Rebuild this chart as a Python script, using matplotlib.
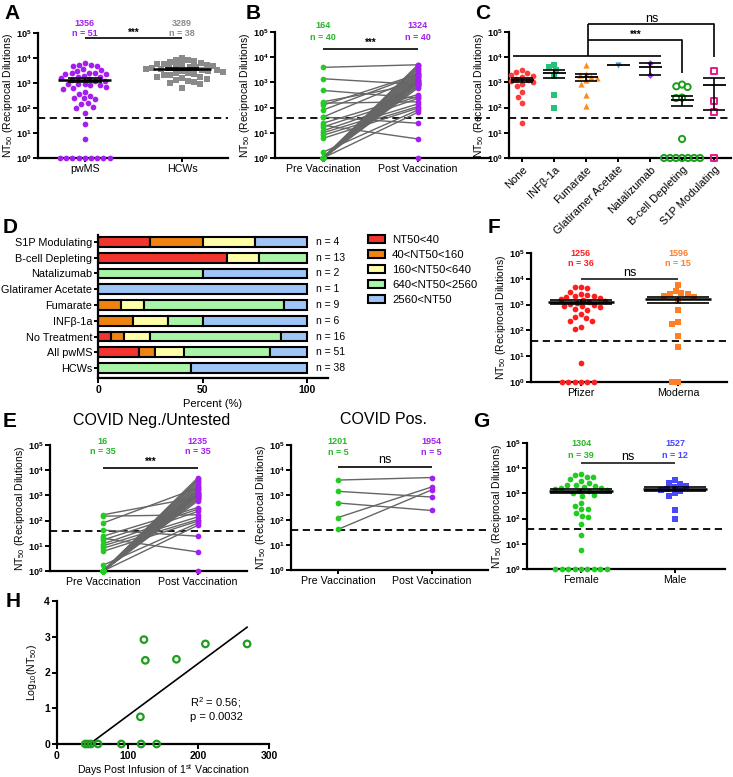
import numpy as np
import matplotlib
matplotlib.use('Agg')
import matplotlib.pyplot as plt
from matplotlib.patches import Patch
from matplotlib.ticker import FixedLocator, FixedFormatter, NullLocator
import matplotlib.transforms as mtrans

plt.rcParams['font.family'] = ['Liberation Sans', 'DejaVu Sans']
plt.rcParams['mathtext.fontset'] = 'custom'
plt.rcParams['mathtext.rm'] = 'Liberation Sans'
plt.rcParams['mathtext.it'] = 'Liberation Sans:italic'
plt.rcParams['mathtext.bf'] = 'Liberation Sans:bold'

# ---------------- data ----------------
# Panel A
cats_A = ['pwMS', 'HCWs']
pwms = [6100, 5400, 5200, 4900, 4600, 3500, 3300, 3100, 2600, 2500, 2450, 2350, 2300,
        1850, 1800, 1700, 1650, 1400, 1300, 1250, 1200, 950, 900, 880, 850, 800, 680,
        650, 600, 420, 380, 300, 260, 240, 230, 160, 140, 110, 100, 62, 23, 5.7,
        1, 1, 1, 1, 1, 1, 1, 1, 1]
hcw = [660, 900, 1000, 1100, 1200, 1300, 1500, 1600, 1700, 1800, 2000, 2100, 2200, 2400,
       2500, 2700, 2900, 3000, 3200, 3380, 3500, 3700, 3900, 4000, 4200, 4500, 4700, 5000,
       5200, 5500, 5800, 6000, 6500, 7000, 7500, 8000, 8500, 10000]
mean_lbl_A = ['1356', '3289']
n_lbl_A = ['n = 51', 'n = 38']

# Panels B / E (paired pre / post vaccination)
cats_BE = ['Pre Vaccination', 'Post Vaccination']
pre_neg = [170, 150, 80, 42, 24, 20, 17, 12, 10, 8, 6, 1.7] + [1] * 23
post_neg = [850, 170, 2000, 24, 330, 5.7, 280, 230, 140, 110, 95, 80,
            5000, 4300, 3800, 3300, 2800, 2400, 2100, 1800, 1600, 1400, 1300, 1200,
            1100, 1000, 950, 900, 750, 700, 65, 1, 1000, 900, 600]
pre_pos = [3960, 1400, 480, 125, 42]
post_pos = [5000, 830, 240, 2100, 1600]
mean_lbl_B = ['164', '1324']
n_lbl_B = ['n = 40', 'n = 40']
mean_lbl_En = ['16', '1235']
n_lbl_En = ['n = 35', 'n = 35']
mean_lbl_Ep = ['1201', '1954']
n_lbl_Ep = ['n = 5', 'n = 5']

# Panel C (by treatment)
cats_C = ['None', 'INFβ-1a', 'Fumarate', 'Glatiramer Acetate', 'Natalizumab',
          'B-cell Depleting', 'S1P Modulating']
c_none = [24, 150, 260, 400, 700, 900, 1000, 1100, 1300, 1400, 1600, 1800, 2000, 2300, 2700, 3000]
c_inf = [100, 330, 1800, 3000, 4000, 5000]
c_fum = [120, 320, 900, 1200, 1500, 1700, 1900, 2200, 5000]
c_ga = [5000]
c_nat = [2000, 6000]
c_bcell = [1, 1, 1, 1, 1, 1, 1, 5.7, 240, 250, 660, 700, 820]
c_s1p = [1, 65, 180, 2800]

# Panel D (percent of each NT50 range)
cats_D = ['HCWs', 'All pwMS', 'No Treatment', 'INFβ-1a', 'Fumarate',
          'Glatiramer Acetate', 'Natalizumab', 'B-cell Depleting', 'S1P Modulating']
bins_D = ['NT50<40', '40<NT50<160', '160<NT50<640', '640<NT50<2560', '2560<NT50']
pct_lt40 = [0, 19.6, 6.25, 0, 0, 0, 0, 61.5, 25]
pct_40_160 = [0, 7.8, 6.25, 16.7, 11.1, 0, 0, 0, 25]
pct_160_640 = [0, 13.7, 12.5, 16.7, 11.1, 0, 0, 15.4, 25]
pct_640_2560 = [44.7, 41.2, 62.5, 16.7, 66.7, 0, 50, 23.1, 0]
pct_gt2560 = [55.3, 17.7, 12.5, 49.9, 11.1, 100, 50, 0, 25]
n_D = [38, 51, 16, 6, 9, 1, 2, 13, 4]

# Panel F (vaccine)
cats_F = ['Pfizer', 'Moderna']
pfizer = [5000, 4800, 4500, 3200, 2600, 2300, 2200, 2100, 2000, 1800, 1600, 1500, 1400,
          1300, 1200, 1100, 950, 900, 850, 800, 700, 620, 420, 320, 300, 240, 230, 140,
          110, 5.5, 1, 1, 1, 1, 1, 1]
moderna = [5940, 3500, 2700, 2600, 2500, 2200, 2000, 1400, 620, 220, 180, 60, 23, 1, 1]
mean_lbl_F = ['1256', '1596']
n_lbl_F = ['n = 36', 'n = 15']

# Panel G (sex)
cats_G = ['Female', 'Male']
female = [6000, 5200, 4600, 4500, 3600, 3000, 2700, 2200, 2100, 2000, 1800, 1700, 1600,
          1500, 1400, 1300, 1200, 1000, 900, 800, 430, 320, 240, 230, 170, 130, 115, 60,
          23, 5.5, 1, 1, 1, 1, 1, 1, 1, 1, 1]
male = [3300, 2600, 2400, 1900, 1800, 1500, 1400, 1300, 1000, 800, 210, 100]
mean_lbl_G = ['1304', '1527']
n_lbl_G = ['n = 39', 'n = 12']

# Panel H (B-cell depleting: days vs log10 NT50)
days_H = [40, 44, 48, 58, 91, 119, 141, 118, 123, 125, 169, 210, 269]
lognt_H = [0, 0, 0, 0, 0, 0, 0, 0.76, 2.92, 2.34, 2.37, 2.80, 2.80]

# ---------------- colours ----------------
PURPLE = '#A31FF0'
GREEN = '#22CC22'
GREEN_T = '#2AB52A'
GRAY = '#8A8A8A'
RED = '#FF1E1E'
ORANGE = '#FF7F27'
BLUE = '#4848FF'
D_COLS = ['#F2352E', '#F0820F', '#FFFFA8', '#A8F5A8', '#9EC5F5']

# ---------------- figure ----------------
W, H = 733, 777
fig = plt.figure(figsize=(W / 100, H / 100), dpi=100)


def add_ax(x0, y0, x1, y1):
    return fig.add_axes([x0 / W, 1 - y1 / H, (x1 - x0) / W, (y1 - y0) / H])


def base_style(ax):
    ax.spines['top'].set_visible(False)
    ax.spines['right'].set_visible(False)
    ax.spines['left'].set_linewidth(1.6)
    ax.spines['bottom'].set_linewidth(1.6)
    ax.tick_params(direction='out', width=1.4, length=3.5, pad=1.5)


def log_axis(ax):
    ax.set_yscale('log')
    ax.set_ylim(1, 1e5)
    ax.yaxis.set_major_locator(FixedLocator([10.0 ** k for k in range(6)]))
    ax.yaxis.set_major_formatter(FixedFormatter([r'$\mathbf{10^{%d}}$' % k for k in range(6)]))
    ax.yaxis.set_minor_locator(NullLocator())
    ax.tick_params(axis='y', labelsize=6.6, pad=1)
    ax.tick_params(axis='x', labelsize=7.7, length=3)
    ax.axhline(40, color='black', lw=1.3, ls=(0, (4, 2.5)), zorder=1)
    ax.set_ylabel(r'NT$_{50}$ (Reciprocal Dilutions)', fontsize=7.5, labelpad=1)


def blend(ax):
    return mtrans.blended_transform_factory(ax.transData, fig.transFigure)


def ptext(ax, x, ypx, s, **kw):
    ax.text(x, 1 - ypx / H, s, transform=blend(ax), ha='center', va='center',
            clip_on=False, **kw)


def pline(ax, xs, ypxs, **kw):
    ax.plot(xs, [1 - y / H for y in ypxs], transform=blend(ax), clip_on=False,
            color='black', lw=1.2, solid_capstyle='butt', **kw)


def swarm(ax, vals, xc, d_px):
    vals = np.asarray(vals, float)
    tr = ax.transData
    ypx = tr.transform(np.column_stack([np.full(len(vals), xc), vals]))[:, 1]
    xunit = tr.transform((1, 1))[0] - tr.transform((0, 1))[0]
    order = np.argsort(-vals, kind='stable')
    placed = []
    offs = np.zeros(len(vals))
    for i in order:
        y = ypx[i]
        cands = [0.0]
        for (px, py) in placed:
            dy = abs(py - y)
            if dy < d_px:
                dx = np.sqrt(d_px ** 2 - dy ** 2)
                cands += [px + dx, px - dx]
        cands = sorted(cands, key=lambda c: (abs(c), c))
        for c in cands:
            if all((c - px) ** 2 + (y - py) ** 2 >= d_px ** 2 - 1e-6 for px, py in placed):
                offs[i] = c
                placed.append((c, y))
                break
    return xc + offs / xunit


def mean_sem(ax, x, vals, hw, cap, lw=1.8):
    v = np.asarray(vals, float)
    m = v.mean()
    ax.plot([x - hw, x + hw], [m, m], color='black', lw=lw, zorder=6,
            solid_capstyle='butt', clip_on=False)
    if len(v) > 1:
        se = v.std(ddof=1) / np.sqrt(len(v))
        ax.errorbar([x], [m], yerr=[[se], [se]], color='black', lw=1.2, capsize=cap,
                    capthick=1.2, zorder=6, fmt='none')


def letter(s, x, y):
    fig.text(x / W, 1 - y / H, s, fontsize=15, fontweight='bold', ha='left', va='top')


NUMFS = 6.5

# ---------------- Panel A ----------------
axA = add_ax(38, 33, 228, 158)
base_style(axA)
log_axis(axA)
axA.set_xlim(-0.48, 1.47)
axA.set_xticks([0, 1])
axA.set_xticklabels(cats_A)
xs = swarm(axA, pwms, 0, 6.2)
axA.scatter(xs, pwms, s=17, c=PURPLE, marker='o', linewidths=0, zorder=3, clip_on=False)
xs = swarm(axA, hcw, 1, 6.4)
axA.scatter(xs, hcw, s=16, c=GRAY, marker='s', linewidths=0, zorder=3, clip_on=False)
mean_sem(axA, 0, pwms, 0.27, 12)
mean_sem(axA, 1, hcw, 0.30, 12)
ptext(axA, 0, 23, mean_lbl_A[0], color=PURPLE, fontsize=NUMFS, fontweight='bold')
ptext(axA, 0, 33, n_lbl_A[0], color=PURPLE, fontsize=NUMFS, fontweight='bold')
ptext(axA, 1, 23, mean_lbl_A[1], color=GRAY, fontsize=NUMFS, fontweight='bold')
ptext(axA, 1, 33, n_lbl_A[1], color=GRAY, fontsize=NUMFS, fontweight='bold')
pline(axA, [0, 1], [38, 38])
ptext(axA, 0.5, 33, '***', fontsize=7, fontweight='bold')


# ---------------- paired panels ----------------
def paired(ax, pre, post, xl, tpx, mean_lbl, n_lbl, sig, sig_px, line_px, sig_size):
    base_style(ax)
    log_axis(ax)
    ax.set_xlim(*xl)
    ax.set_xticks([0, 1])
    ax.set_xticklabels(cats_BE)
    for a, b in zip(pre, post):
        ax.plot([0, 1], [a, b], color='#666666', lw=1.0, zorder=2, clip_on=False)
    ax.scatter(np.zeros(len(pre)), pre, s=17, c=GREEN, linewidths=0, zorder=3, clip_on=False)
    ax.scatter(np.ones(len(post)), post, s=17, c=PURPLE, linewidths=0, zorder=3, clip_on=False)
    ptext(ax, 0, tpx[0], mean_lbl[0], color=GREEN_T, fontsize=NUMFS, fontweight='bold')
    ptext(ax, 0, tpx[1], n_lbl[0], color=GREEN_T, fontsize=NUMFS, fontweight='bold')
    ptext(ax, 1, tpx[0], mean_lbl[1], color=PURPLE, fontsize=NUMFS, fontweight='bold')
    ptext(ax, 1, tpx[1], n_lbl[1], color=PURPLE, fontsize=NUMFS, fontweight='bold')
    pline(ax, [0, 1], [line_px, line_px])
    if sig == '***':
        ptext(ax, 0.5, sig_px, sig, fontsize=7, fontweight='bold')
    else:
        ptext(ax, 0.5, sig_px, sig, fontsize=sig_size)


axB = add_ax(275, 32, 490, 158)
paired(axB, pre_neg + pre_pos, post_neg + post_pos, (-0.505, 1.76), (26, 37),
       mean_lbl_B, n_lbl_B, '***', 43, 49, 7)

axE1 = add_ax(50, 445, 247, 571)
paired(axE1, pre_neg, post_neg, (-0.56, 1.52), (441, 451), mean_lbl_En, n_lbl_En,
       '***', 462, 468, 7)
axE2 = add_ax(291, 445, 488, 570)
paired(axE2, pre_pos, post_pos, (-0.5, 1.6), (442, 453), mean_lbl_Ep, n_lbl_Ep,
       'ns', 460, 467, 9)
fig.text(152 / W, 1 - 420 / H, 'COVID Neg./Untested', fontsize=11.5, ha='center', va='center')
fig.text(383 / W, 1 - 420 / H, 'COVID Pos.', fontsize=11.5, ha='center', va='center')

# ---------------- Panel C ----------------
axC = add_ax(509, 32, 731, 158)
base_style(axC)
log_axis(axC)
axC.set_xlim(-0.41, 6.53)
axC.set_xticks(range(len(cats_C)))
axC.set_xticklabels(cats_C, rotation=45, ha='right', rotation_mode='anchor', fontsize=8)
c_groups = [c_none, c_inf, c_fum, c_ga, c_nat, c_bcell, c_s1p]
c_style = [dict(marker='o', c='#FF3B3B', linewidths=0, s=17),
           dict(marker='s', c='#24C27A', linewidths=0, s=17),
           dict(marker='^', c='#FF8C1A', linewidths=0, s=20),
           dict(marker='v', c='#3A9BF0', linewidths=0, s=20),
           dict(marker='D', c='#A040F0', linewidths=0, s=12),
           dict(marker='o', facecolors='none', edgecolors='#1E9E1E', linewidths=1.4, s=20),
           dict(marker='s', facecolors='none', edgecolors='#E6198C', linewidths=1.4, s=20)]
for i, (g, st) in enumerate(zip(c_groups, c_style)):
    xs = swarm(axC, g, i, 6.0)
    axC.scatter(xs, g, zorder=3, clip_on=False, **st)
    mean_sem(axC, i, g, 0.36, 8, lw=1.3)
# brackets (pixel y)
pline(axC, [-0.3, 4.35], [55.7, 55.7])
pline(axC, [2.06, 2.06], [55.7, 24.3])
pline(axC, [2.06, 5.0, 5.0], [40, 40, 72.7])
pline(axC, [2.06, 6.0, 6.0], [24.3, 24.3, 57.3])
ptext(axC, 3.55, 35, '***', fontsize=7, fontweight='bold')
ptext(axC, 4.05, 19, 'ns', fontsize=9)

# ---------------- Panel D ----------------
axD = add_ax(98, 235, 328, 378)
base_style(axD)
axD.set_xlim(0, 110)
axD.set_ylim(-0.63, 8.44)
pcts = np.array([pct_lt40, pct_40_160, pct_160_640, pct_640_2560, pct_gt2560]).T
ypos = np.arange(len(cats_D))
left = np.zeros(len(cats_D))
for j in range(5):
    w = pcts[:, j]
    m = w > 0
    axD.barh(ypos[m], w[m], left=left[m], height=0.62, color=D_COLS[j],
             edgecolor='black', linewidth=1.5, zorder=2)
    left = left + w
axD.set_yticks(ypos)
axD.set_yticklabels(cats_D, fontsize=7.8)
axD.tick_params(axis='y', pad=1, length=3)
axD.set_xticks([0, 50, 100])
axD.set_xticklabels(['0', '50', '100'], fontsize=7.5, fontweight='bold')
axD.set_xlabel('Percent (%)', fontsize=8, labelpad=3)
for y, n in zip(ypos, n_D):
    axD.text(104.5, y, 'n = %d' % n, fontsize=7.5, va='center', ha='left', clip_on=False)
handles = [Patch(facecolor=c, edgecolor='black', linewidth=1.5) for c in D_COLS]
fig.legend(handles, bins_D, loc='upper left', bbox_to_anchor=(368 / W, 1 - 235 / H),
           frameon=False, fontsize=8.2, handlelength=1.5, handleheight=0.75,
           handletextpad=0.6, labelspacing=0.42, borderpad=0, borderaxespad=0)


# ---------------- Panels F and G ----------------
def two_group(ax, g1, g2, cats, xl, st1, st2, cols, mean_lbl, n_lbl, tpx, sig_px, line_px):
    base_style(ax)
    log_axis(ax)
    ax.set_xlim(*xl)
    ax.set_xticks([0, 1])
    ax.set_xticklabels(cats)
    xs = swarm(ax, g1, 0, 6.4)
    ax.scatter(xs, g1, zorder=3, clip_on=False, **st1)
    xs = swarm(ax, g2, 1, 6.4)
    ax.scatter(xs, g2, zorder=3, clip_on=False, **st2)
    mean_sem(ax, 0, g1, 0.34, 22)
    mean_sem(ax, 1, g2, 0.34, 22)
    for k in range(2):
        ptext(ax, k, tpx[0], mean_lbl[k], color=cols[k], fontsize=NUMFS, fontweight='bold')
        ptext(ax, k, tpx[1], n_lbl[k], color=cols[k], fontsize=NUMFS, fontweight='bold')
    pline(ax, [0, 1], [line_px, line_px], alpha=0.9)
    ptext(ax, 0.5, sig_px, 'ns', fontsize=9)


axF = add_ax(531, 253, 727, 382)
two_group(axF, pfizer, moderna, cats_F, (-0.515, 1.505),
          dict(marker='o', c=RED, linewidths=0, s=17),
          dict(marker='s', c=ORANGE, linewidths=0, s=16),
          [RED, ORANGE], mean_lbl_F, n_lbl_F, (253, 264), 273, 279)

axG = add_ax(527, 443, 725, 569)
two_group(axG, female, male, cats_G, (-0.574, 1.53),
          dict(marker='o', c=GREEN, linewidths=0, s=17),
          dict(marker='s', c=BLUE, linewidths=0, s=16),
          [GREEN_T, BLUE], mean_lbl_G, n_lbl_G, (444, 455), 457, 463)

# ---------------- Panel H ----------------
axH = add_ax(57, 601, 269, 744)
base_style(axH)
axH.set_xlim(0, 300)
axH.set_ylim(0, 4)
axH.set_xticks([0, 100, 200, 300])
axH.set_xticklabels(['0', '100', '200', '300'], fontsize=7.5, fontweight='bold')
axH.set_yticks([0, 1, 2, 3, 4])
axH.set_yticklabels(['0', '1', '2', '3', '4'], fontsize=7.5, fontweight='bold')
axH.scatter(days_H, lognt_H, s=22, facecolors='none', edgecolors='#1E9E1E',
            linewidths=1.6, zorder=3, clip_on=False)
slope, inter = np.polyfit(days_H, lognt_H, 1)
xx = np.array([min(days_H), max(days_H)])
axH.plot(xx, slope * xx + inter, color='black', lw=1.2, zorder=2)
axH.text(225, 1.15, r'R$^2$ = 0.56;', fontsize=8, ha='center', va='center')
axH.text(225, 0.76, 'p = 0.0032', fontsize=8, ha='center', va='center')
axH.set_xlabel(r'Days Post Infusion of 1$^{\mathrm{st}}$ Vaccination', fontsize=7.6, labelpad=1)
axH.set_ylabel(r'Log$_{10}$(NT$_{50}$)', fontsize=7.6, labelpad=4)

# ---------------- panel letters ----------------
letter('A', 4, 4)
letter('B', 246, 4)
letter('C', 475, 4)
letter('D', 3, 218)
letter('E', 3, 412)
letter('F', 488, 218)
letter('G', 473, 412)
letter('H', 6, 592)

fig.savefig('out.png', dpi=100)
